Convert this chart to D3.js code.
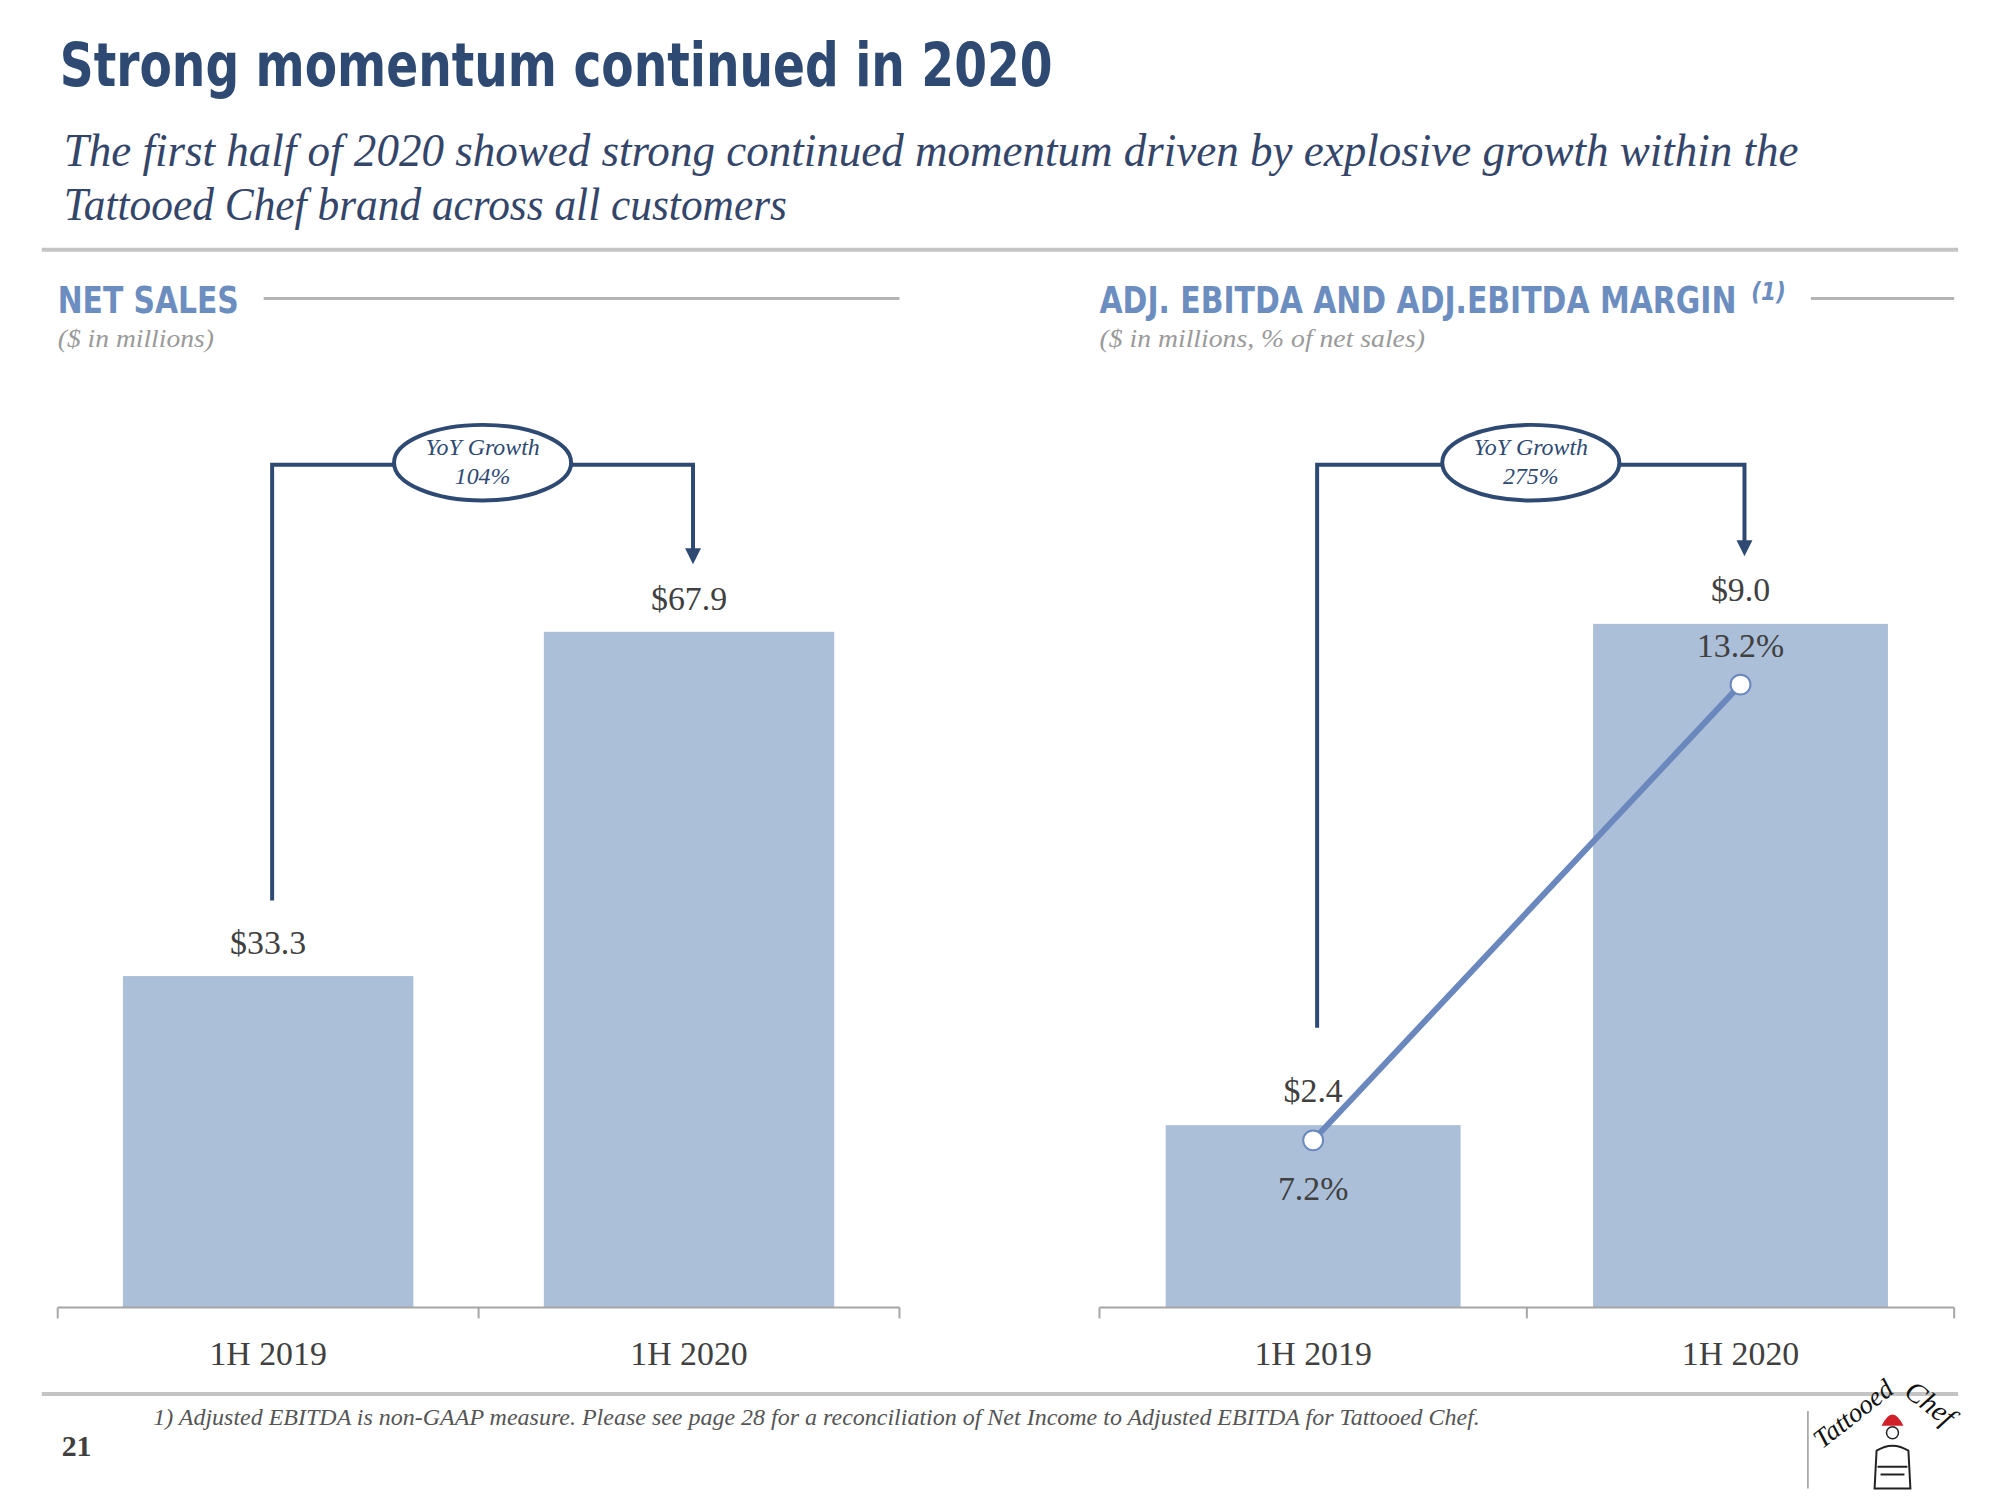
<!DOCTYPE html>
<html>
<head>
<meta charset="utf-8">
<script src="https://cdn.jsdelivr.net/npm/d3@7"></script>
<style>
  body { margin: 0; background: #fff; }
  text { font-family: "Liberation Serif", "DejaVu Serif", serif; }
  .cond { font-family: "Liberation Sans Narrow", "DejaVu Sans Condensed", "Roboto", sans-serif; font-weight: bold; }
</style>
</head>
<body>
<svg id="chart" width="2000" height="1500"></svg>
<script>
// data
var categories = ['1H 2019', '1H 2020'];
var netSales = [33.3, 67.9];
var ebitda = [2.4, 9.0];
var ebitdaMargin = [7.2, 13.2];
var yoyGrowth = ['104%', '275%'];

var NAVY = '#2E4A73', BLUE = '#6C8DBF', BAR = '#ABBFD9', TXT = '#404040', RULE = '#C4C4C4';

var svg = d3.select('#chart').append('g').attr('transform', 'scale(0.995)');

// squeeze a text horizontally to a given width (real transform, so its box is right too)
function fit(sel, x, y, w) {
	sel.attr('x', 0).attr('y', 0);
	var nat = sel.node().getComputedTextLength();
	sel.attr('transform', 'translate(' + x + ',' + y + ') scale(' + (w / nat) + ',1)');
	return sel;
}

// title + subtitle
fit(svg.append('text').attr('class', 'cond').attr('font-size', 60).attr('fill', NAVY)
	.text('Strong momentum continued in 2020'), 60, 86, 998);
fit(svg.append('text').attr('font-size', 46).attr('font-style', 'italic').attr('fill', '#34456A')
	.text('The first half of 2020 showed strong continued momentum driven by explosive growth within the'), 64, 167, 1744);
fit(svg.append('text').attr('font-size', 46).attr('font-style', 'italic').attr('fill', '#34456A')
	.text('Tattooed Chef brand across all customers'), 64, 221, 727);

svg.append('line').attr('x1', 42).attr('x2', 1968).attr('y1', 251).attr('y2', 251).attr('stroke', RULE).attr('stroke-width', 4);

// panel builder
function panel(opt) {
	var g = svg.append('g');

	// header
	fit(g.append('text').attr('class', 'cond').attr('font-size', 38).attr('fill', BLUE).text(opt.head), opt.x0, 315, opt.headW);
	if (opt.sup)
		g.append('text').attr('class', 'cond').attr('x', opt.x0 + opt.headW + 15).attr('y', 302).attr('font-size', 24)
			.attr('font-style', 'italic').attr('fill', BLUE).text(opt.sup);
	g.append('line').attr('x1', opt.ruleX).attr('x2', opt.x1).attr('y1', 300).attr('y2', 300).attr('stroke', '#B4B4B4').attr('stroke-width', 3);
	fit(g.append('text').attr('font-size', 26).attr('font-style', 'italic').attr('fill', '#9A9A9A').text(opt.sub), opt.x0, 349, opt.subW);

	var x = d3.scaleBand().domain(categories).range([opt.x0, opt.x1]).paddingInner(0.31).paddingOuter(0.155);
	var xb = d3.scaleBand().domain(categories).range([opt.x0, opt.x1]);
	var y = d3.scaleLinear().domain([0, opt.ymax]).range([1314, 314]);

	// bars
	g.selectAll('rect.bar').data(opt.values).enter().append('rect')
		.attr('x', function(d, i) { return x(categories[i]); })
		.attr('width', x.bandwidth())
		.attr('y', function(d) { return y(d); })
		.attr('height', function(d) { return y(0) - y(d); })
		.attr('fill', BAR);

	// value labels
	g.selectAll('text.val').data(opt.values).enter().append('text')
		.attr('x', function(d, i) { return x(categories[i]) + x.bandwidth() / 2; })
		.attr('y', function(d) { return y(d) - opt.labelGap; })
		.attr('text-anchor', 'middle').attr('font-size', 34).attr('fill', TXT)
		.text(function(d) { return '$' + d.toFixed(1); });

	// axis
	var axis = g.append('g').attr('transform', 'translate(0,1314)');
	axis.append('line').attr('x1', opt.x0).attr('x2', opt.x1).attr('stroke', '#A6A6A6').attr('stroke-width', 2);
	axis.selectAll('line.tick').data(categories.map(function(c) { return xb(c); }).concat([opt.x1])).enter().append('line')
		.attr('x1', function(d) { return d; }).attr('x2', function(d) { return d; })
		.attr('y1', 0).attr('y2', 11).attr('stroke', '#A6A6A6').attr('stroke-width', 2);
	axis.selectAll('text').data(categories).enter().append('text')
		.attr('x', function(d) { return xb(d) + xb.bandwidth() / 2; }).attr('y', 58)
		.attr('text-anchor', 'middle').attr('font-size', 34).attr('fill', TXT).text(function(d) { return d; });

	// margin line
	if (opt.margin) {
		var y2 = d3.scaleLinear().domain([5, 18.1]).range([1314, 314]);
		var cx = function(d, i) { return x(categories[i]) + x.bandwidth() / 2; };
		g.append('path').datum(opt.margin)
			.attr('d', d3.line().x(cx).y(function(d) { return y2(d); }))
			.attr('fill', 'none').attr('stroke', '#6A88BE').attr('stroke-width', 6);
		g.selectAll('circle').data(opt.margin).enter().append('circle')
			.attr('cx', cx).attr('cy', function(d) { return y2(d); }).attr('r', 10)
			.attr('fill', '#fff').attr('stroke', '#6A88BE').attr('stroke-width', 2);
		g.selectAll('text.pct').data(opt.margin).enter().append('text')
			.attr('x', cx).attr('y', function(d, i) { return i === 0 ? y2(d) + 60 : y2(d) - 28; })
			.attr('text-anchor', 'middle').attr('font-size', 34).attr('fill', TXT)
			.text(function(d) { return d.toFixed(1) + '%'; });
	}

	// YoY bracket
	var lx = x(categories[0]) + x.bandwidth() / 2 + 4;
	var rx = x(categories[1]) + x.bandwidth() / 2 + 4;
	var by = 467;
	var ex = (lx + rx) / 2;
	var tip = y(opt.values[1]) - 68;
	g.append('path')
		.attr('d', 'M' + lx + ',' + (y(opt.values[0]) - opt.bracketGap) + 'V' + by + 'H' + rx + 'V' + (tip - 14))
		.attr('fill', 'none').attr('stroke', NAVY).attr('stroke-width', 4);
	g.append('path').attr('d', 'M' + (rx - 8) + ',' + (tip - 16) + 'L' + (rx + 8) + ',' + (tip - 16) + 'L' + rx + ',' + tip + 'Z')
		.attr('fill', NAVY);
	g.append('ellipse').attr('cx', ex).attr('cy', by - 2).attr('rx', 89).attr('ry', 38)
		.attr('fill', '#fff').attr('stroke', NAVY).attr('stroke-width', 4);
	g.append('text').attr('x', ex).attr('y', by - 10).attr('text-anchor', 'middle').attr('font-size', 24)
		.attr('font-style', 'italic').attr('fill', NAVY).text('YoY Growth');
	g.append('text').attr('x', ex).attr('y', by + 19).attr('text-anchor', 'middle').attr('font-size', 24)
		.attr('font-style', 'italic').attr('fill', NAVY).text(opt.growth);
}

panel({ x0: 58, x1: 904, head: 'NET SALES', headW: 182, ruleX: 265, sub: '($ in millions)', subW: 157,
	values: netSales, ymax: 100, labelGap: 22, bracketGap: 76, growth: yoyGrowth[0] });
panel({ x0: 1105, x1: 1964, head: 'ADJ. EBITDA AND ADJ.EBITDA MARGIN', headW: 640, sup: '(1)', ruleX: 1820,
	sub: '($ in millions, % of net sales)', subW: 327, values: ebitda, ymax: 13.1, labelGap: 23, bracketGap: 98,
	margin: ebitdaMargin, growth: yoyGrowth[1] });

// footer
svg.append('line').attr('x1', 42).attr('x2', 1968).attr('y1', 1401).attr('y2', 1401).attr('stroke', RULE).attr('stroke-width', 4);
fit(svg.append('text').attr('font-size', 23).attr('font-style', 'italic').attr('fill', '#555')
	.text('1)   Adjusted EBITDA is non-GAAP measure. Please see page 28 for a reconciliation of Net Income to Adjusted EBITDA for Tattooed Chef.'),
	154, 1432, 1333);
svg.append('text').attr('x', 62).attr('y', 1463).attr('font-size', 30).attr('font-weight', 'bold').attr('fill', TXT).text('21');

// logo
svg.append('line').attr('x1', 1817).attr('x2', 1817).attr('y1', 1418).attr('y2', 1496).attr('stroke', '#999').attr('stroke-width', 1.5);
var logo = svg.append('g');
logo.append('text').attr('transform', 'translate(1868,1428) rotate(-38)').attr('text-anchor', 'middle')
	.attr('font-size', 27).attr('font-style', 'italic').attr('fill', '#111').text('Tattooed');
logo.append('text').attr('transform', 'translate(1934,1418) rotate(38)').attr('text-anchor', 'middle')
	.attr('font-size', 29).attr('font-style', 'italic').attr('fill', '#111').text('Chef');
logo.append('path').attr('d', 'M1891,1433 Q1902,1410 1913,1433 Z').attr('fill', '#D0202A');
logo.append('circle').attr('cx', 1902).attr('cy', 1440).attr('r', 6).attr('fill', '#fff').attr('stroke', '#222').attr('stroke-width', 1.5);
logo.append('path').attr('d', 'M1884,1496 L1886,1458 Q1902,1448 1918,1458 L1920,1496 Z')
	.attr('fill', '#fff').attr('stroke', '#222').attr('stroke-width', 2);
logo.append('path').attr('d', 'M1887,1474 L1917,1474 M1890,1482 L1914,1482').attr('stroke', '#222').attr('stroke-width', 2);
</script>
</body>
</html>
